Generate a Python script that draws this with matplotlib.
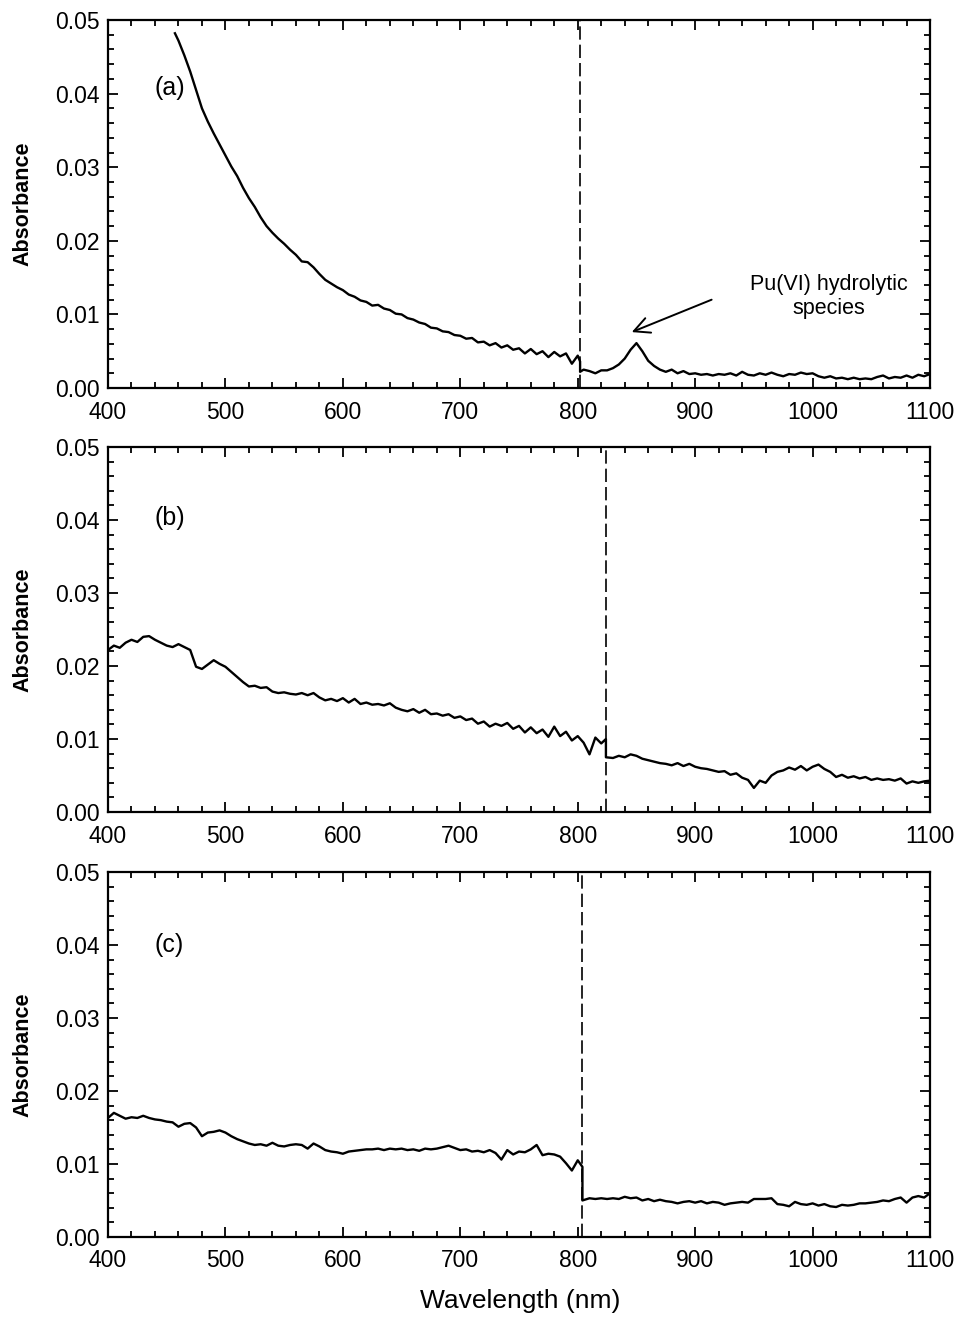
import matplotlib
matplotlib.use("Agg")
import matplotlib.pyplot as plt
import numpy as np
from matplotlib.ticker import MultipleLocator, FormatStrFormatter

plt.rcParams['font.family'] = ['Liberation Sans', 'DejaVu Sans']

# ---- panel (a) ----
wl_a1 = [457] + list(range(460, 805, 5)) + [802]
abs_a1 = [0.0482, 0.0472, 0.0452, 0.0430, 0.0405, 0.0380, 0.0362, 0.0346, 0.0331, 0.0316,
          0.0301, 0.0288, 0.0272, 0.0258, 0.0246, 0.0232, 0.0220, 0.0211, 0.0203, 0.0196,
          0.0188, 0.0181, 0.0172, 0.0171, 0.0164, 0.0155, 0.0147, 0.0142, 0.0137, 0.0133,
          0.0127, 0.0124, 0.0119, 0.0117, 0.0112, 0.0113, 0.0108, 0.0106, 0.0101, 0.0100,
          0.0095, 0.0093, 0.0089, 0.0087, 0.0082, 0.0081, 0.0077, 0.0076, 0.0072, 0.0071,
          0.0067, 0.0068, 0.0062, 0.0063, 0.0058, 0.0061, 0.0055, 0.0058, 0.0052, 0.0054,
          0.0047, 0.0053, 0.0046, 0.0050, 0.0042, 0.0049, 0.0043, 0.0047, 0.0033, 0.0044,
          0.0036]
wl_a2 = [802] + list(range(805, 1105, 5))
abs_a2 = [0.0022, 0.0025, 0.0023, 0.0020, 0.0024, 0.0024, 0.0027, 0.0032, 0.0040, 0.0052,
          0.0061, 0.0050, 0.0037, 0.0030, 0.0025, 0.0022, 0.0025, 0.0020, 0.0023, 0.0019,
          0.0020, 0.0018, 0.0019, 0.0017, 0.0019, 0.0018, 0.0020, 0.0017, 0.0022, 0.0018,
          0.0017, 0.0020, 0.0018, 0.0021, 0.0018, 0.0016, 0.0019, 0.0018, 0.0021, 0.0019,
          0.0020, 0.0016, 0.0014, 0.0016, 0.0013, 0.0014, 0.0012, 0.0014, 0.0012, 0.0013,
          0.0012, 0.0015, 0.0017, 0.0013, 0.0015, 0.0014, 0.0017, 0.0014, 0.0018, 0.0016,
          0.0019]

# ---- panel (b) ----
wl_b1 = list(range(400, 825, 5)) + [824]
abs_b1 = [0.0222, 0.0228, 0.0225, 0.0232, 0.0236, 0.0233, 0.0240, 0.0241, 0.0236, 0.0232,
          0.0228, 0.0226, 0.0230, 0.0226, 0.0222, 0.0199, 0.0196, 0.0202, 0.0208, 0.0203,
          0.0199, 0.0192, 0.0185, 0.0178, 0.0172, 0.0173, 0.0170, 0.0171, 0.0165, 0.0163,
          0.0164, 0.0162, 0.0161, 0.0163, 0.0160, 0.0163, 0.0157, 0.0153, 0.0155, 0.0152,
          0.0156, 0.0150, 0.0155, 0.0148, 0.0150, 0.0147, 0.0148, 0.0146, 0.0149, 0.0143,
          0.0140, 0.0138, 0.0141, 0.0136, 0.0140, 0.0134, 0.0135, 0.0132, 0.0134, 0.0129,
          0.0131, 0.0126, 0.0128, 0.0121, 0.0124, 0.0117, 0.0121, 0.0118, 0.0122, 0.0114,
          0.0118, 0.0109, 0.0116, 0.0108, 0.0113, 0.0103, 0.0117, 0.0104, 0.0110, 0.0098,
          0.0104, 0.0095, 0.0079, 0.0102, 0.0094, 0.0100]
wl_b2 = [824] + list(range(830, 1105, 5))
abs_b2 = [0.0075,
          0.0074, 0.0077, 0.0075, 0.0079, 0.0077, 0.0073, 0.0071, 0.0069, 0.0067, 0.0066,
          0.0064, 0.0067, 0.0063, 0.0066, 0.0062, 0.0060, 0.0059, 0.0057, 0.0055, 0.0056,
          0.0051, 0.0053, 0.0047, 0.0044, 0.0033, 0.0043, 0.0040, 0.0050, 0.0055, 0.0057,
          0.0061, 0.0058, 0.0063, 0.0057, 0.0062, 0.0065, 0.0059, 0.0055, 0.0048, 0.0051,
          0.0047, 0.0049, 0.0046, 0.0048, 0.0044, 0.0046, 0.0044, 0.0045, 0.0043, 0.0046,
          0.0039, 0.0042, 0.0040, 0.0042, 0.0043]

# ---- panel (c) ----
wl_c1 = list(range(400, 805, 5)) + [804]
abs_c1 = [0.0163, 0.0170, 0.0166, 0.0162, 0.0164, 0.0163, 0.0166, 0.0163, 0.0161, 0.0160,
          0.0158, 0.0157, 0.0151, 0.0155, 0.0156, 0.0150, 0.0138, 0.0143, 0.0144, 0.0146,
          0.0143, 0.0138, 0.0134, 0.0131, 0.0128, 0.0126, 0.0127, 0.0125, 0.0129, 0.0125,
          0.0124, 0.0126, 0.0127, 0.0126, 0.0121, 0.0128, 0.0124, 0.0119, 0.0117, 0.0116,
          0.0114, 0.0117, 0.0118, 0.0119, 0.0120, 0.0120, 0.0121, 0.0119, 0.0121, 0.0120,
          0.0121, 0.0119, 0.0120, 0.0118, 0.0121, 0.0120, 0.0121, 0.0123, 0.0125, 0.0122,
          0.0119, 0.0120, 0.0117, 0.0118, 0.0116, 0.0119, 0.0115, 0.0106, 0.0119, 0.0113,
          0.0117, 0.0116, 0.0120, 0.0126, 0.0112, 0.0114, 0.0113, 0.0110, 0.0101, 0.0091,
          0.0105, 0.0096]
wl_c2 = [804] + list(range(810, 1105, 5))
abs_c2 = [0.0050,
          0.0053, 0.0052, 0.0053, 0.0052, 0.0053, 0.0052, 0.0055, 0.0053, 0.0054, 0.0050,
          0.0052, 0.0049, 0.0051, 0.0049, 0.0048, 0.0046, 0.0048, 0.0049, 0.0047, 0.0049,
          0.0046, 0.0048, 0.0047, 0.0044, 0.0046, 0.0047, 0.0048, 0.0047, 0.0052, 0.0052,
          0.0052, 0.0053, 0.0045, 0.0044, 0.0042, 0.0048, 0.0045, 0.0044, 0.0046, 0.0043,
          0.0045, 0.0042, 0.0041, 0.0044, 0.0043, 0.0044, 0.0046, 0.0046, 0.0047, 0.0048,
          0.0050, 0.0049, 0.0052, 0.0054, 0.0047, 0.0054, 0.0056, 0.0054, 0.0060]

detector_switch = [802, 824, 804]
panel_labels = ['(a)', '(b)', '(c)']

series = [(wl_a1 + wl_a2, abs_a1 + abs_a2),
          (wl_b1 + wl_b2, abs_b1 + abs_b2),
          (wl_c1 + wl_c2, abs_c1 + abs_c2)]

fig = plt.figure(figsize=(9.6, 13.18), dpi=100)
rects = [[0.1125, 0.7056, 0.8563, 0.2792],
         [0.1125, 0.3839, 0.8563, 0.2769],
         [0.1125, 0.0615, 0.8563, 0.2769]]
label_y = [0.815, 0.805, 0.80]

axes = []
for i, r in enumerate(rects):
    ax = fig.add_axes(r)
    x, y = series[i]
    ax.plot(x, y, color='black', lw=1.7)
    ax.axvline(detector_switch[i], color='black', lw=1.2, dashes=(8, 3))
    ax.set_xlim(400, 1100)
    ax.set_ylim(0, 0.05)
    ax.xaxis.set_major_locator(MultipleLocator(100))
    ax.xaxis.set_minor_locator(MultipleLocator(20))
    ax.yaxis.set_major_locator(MultipleLocator(0.01))
    ax.yaxis.set_minor_locator(MultipleLocator(0.002))
    ax.yaxis.set_major_formatter(FormatStrFormatter('%.2f'))
    ax.tick_params(which='both', direction='in', top=True, right=True, width=1.3)
    ax.tick_params(which='major', length=7, labelsize=16.5)
    ax.tick_params(axis='x', which='major', pad=9)
    ax.tick_params(axis='y', which='major', pad=6)
    ax.tick_params(which='minor', length=4)
    for s in ax.spines.values():
        s.set_linewidth(1.6)
    ax.set_ylabel('Absorbance', fontsize=15.5, fontweight='bold')
    ax.yaxis.set_label_coords(-0.091, 0.5)
    ax.text(0.057, label_y[i], panel_labels[i], transform=ax.transAxes,
            fontsize=18, va='center', ha='left')
    axes.append(ax)

axes[0].text(1014, 0.0124, 'Pu(VI) hydrolytic\nspecies', ha='center', va='center',
             fontsize=15.5, linespacing=1.2)
axes[0].annotate('', xy=(846, 0.0076), xytext=(914, 0.0120),
                 arrowprops=dict(arrowstyle='->', color='black', lw=1.4,
                                 mutation_scale=28, shrinkA=0, shrinkB=0))
axes[2].set_xlabel('Wavelength (nm)', fontsize=19)
axes[2].xaxis.set_label_coords(0.501, -0.143)

fig.savefig('out.png', dpi=100)
